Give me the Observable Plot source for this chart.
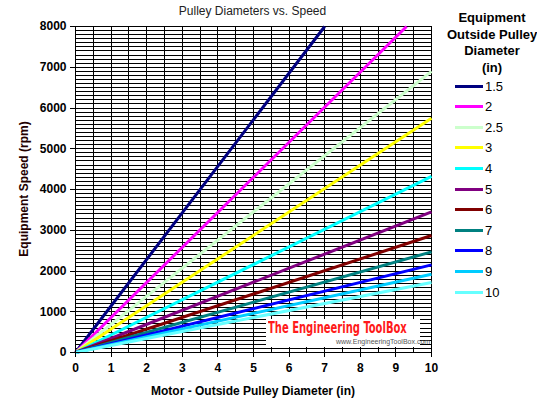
<!DOCTYPE html>
<html>
<head>
<meta charset="utf-8">
<script src="https://cdn.jsdelivr.net/npm/d3@7"></script>
<script src="https://cdn.jsdelivr.net/npm/@observablehq/plot@0.6"></script>
<style>
  html, body { margin:0; padding:0; background:#fff; }
  #wrap { position:relative; width:537px; height:419px; font-family:"Liberation Sans", Arial, sans-serif; color:#000; overflow:hidden; }
  #chart { position:absolute; left:0; top:0; }
  .abs { position:absolute; white-space:nowrap; }
  #title { left:0; width:505px; top:4px; text-align:center; font-size:12px; color:#222; }
  #xlabel { left:75px; width:356px; top:384px; text-align:center; font-size:12px; font-weight:bold; }
  #ylabel { left:24px; top:189px; transform:translate(-50%,-50%) rotate(-90deg); font-size:12px; font-weight:bold; color:#200; }
  #legTitle { left:447px; width:90px; top:10px; text-align:center; font-size:13px; font-weight:bold; line-height:16.5px; }
  .legRow { position:absolute; left:455px; height:20px; display:flex; align-items:center; font-size:13px; }
  .legRow span.sw { display:inline-block; width:28px; height:3px; margin-right:2px; }
  #wm { left:266px; top:319px; width:154px; height:28px; background:#fff; }
  #wm .t1 { position:absolute; left:2px; top:1px; line-height:16px; font-family:"DejaVu Sans Condensed", "Liberation Sans Narrow", sans-serif; font-weight:bold; font-size:15px; color:#ff1a1a; transform:scaleX(0.74); transform-origin:left; }
  #wm .t2 { position:absolute; left:70px; top:19px; line-height:8px; font-size:7px; color:#555; }
</style>
</head>
<body>
<div id="wrap">
  <div id="chart"></div>
  <div id="title" class="abs">Pulley Diameters vs. Speed</div>
  <div id="xlabel" class="abs">Motor - Outside Pulley Diameter (in)</div>
  <div id="ylabel" class="abs">Equipment Speed (rpm)</div>
  <div id="legTitle" class="abs">Equipment<br>Outside Pulley<br>Diameter<br>(in)</div>
  <div id="legend"></div>
  <div id="wm" class="abs"><div class="t1">The Engineering ToolBox</div><div class="t2">www.EngineeringToolBox.com</div></div>
</div>
<script>
// Equipment pulley diameters (series) and colours
const equipDia = ["1.5", "2", "2.5", "3", "4", "5", "6", "7", "8", "9", "10"];
const seriesColors = ["#000080", "#FF00FF", "#CCFFCC", "#FFFF00", "#00FFFF", "#800080", "#800000", "#008080", "#0000FF", "#00CCFF", "#66FFFF"];
// Each series is a straight line from the origin; end points
const startMotor = [0, 0, 0, 0, 0, 0, 0, 0, 0, 0, 0];
const startSpeed = [0, 0, 0, 0, 0, 0, 0, 0, 0, 0, 0];
const endMotor = [7.0, 9.3, 10, 10, 10, 10, 10, 10, 10, 10, 10];
const endSpeed = [8000, 8000, 6900, 5750, 4320, 3450, 2870, 2470, 2150, 1920, 1720];
// Axis ticks
const xTicks = [0, 1, 2, 3, 4, 5, 6, 7, 8, 9, 10];
const yTicks = [0, 1000, 2000, 3000, 4000, 5000, 6000, 7000, 8000];

const rows = [];
equipDia.forEach((d, i) => {
  rows.push({dia: d, motor: startMotor[i], speed: startSpeed[i]});
  rows.push({dia: d, motor: endMotor[i], speed: endSpeed[i]});
});

const xGrid = d3.range(0, 10.001, 0.5);
const yGrid = d3.range(0, 8001, 100);

const chart = Plot.plot({
  width: 537,
  height: 419,
  marginLeft: 75,
  marginRight: 106,
  marginTop: 26,
  marginBottom: 67,
  x: {domain: [0, 10]},
  y: {domain: [0, 8000]},
  color: {domain: equipDia, range: seriesColors},
  style: {fontFamily: "Liberation Sans, Arial, sans-serif", fontSize: "12px", background: "transparent", color: "#000"},
  marks: [
    Plot.ruleY(yGrid, {y: d => d, stroke: "#000", strokeWidth: 1, shapeRendering: "crispEdges"}),
    Plot.ruleX(xGrid, {x: d => d, stroke: "#000", strokeWidth: 1, shapeRendering: "crispEdges"}),
    Plot.line(rows, {x: "motor", y: "speed", z: "dia", stroke: "dia", strokeWidth: 3, strokeLinecap: "butt"}),
    Plot.axisX(xTicks, {tickSize: 5, tickPadding: 6, fontWeight: "bold", fontSize: 12, label: null, stroke: "#000", shapeRendering: "crispEdges"}),
    Plot.axisY(yTicks, {tickSize: 5, tickPadding: 4, fontWeight: "bold", fontSize: 12, label: null, tickFormat: d => String(d), stroke: "#000", shapeRendering: "crispEdges"}),
    Plot.ruleY([0], {stroke: "#000", strokeWidth: 1.5, shapeRendering: "crispEdges"}),
    Plot.ruleX([0], {stroke: "#000", strokeWidth: 1.5, shapeRendering: "crispEdges"})
  ]
});
document.getElementById("chart").appendChild(chart);

// Legend
const leg = document.getElementById("legend");
equipDia.forEach((d, i) => {
  const row = document.createElement("div");
  row.className = "legRow";
  row.style.top = (76 + i * 20.6) + "px";
  const sw = document.createElement("span");
  sw.className = "sw";
  sw.style.background = seriesColors[i];
  row.appendChild(sw);
  const lab = document.createElement("span");
  lab.textContent = d;
  row.appendChild(lab);
  leg.appendChild(row);
});
</script>
</body>
</html>
